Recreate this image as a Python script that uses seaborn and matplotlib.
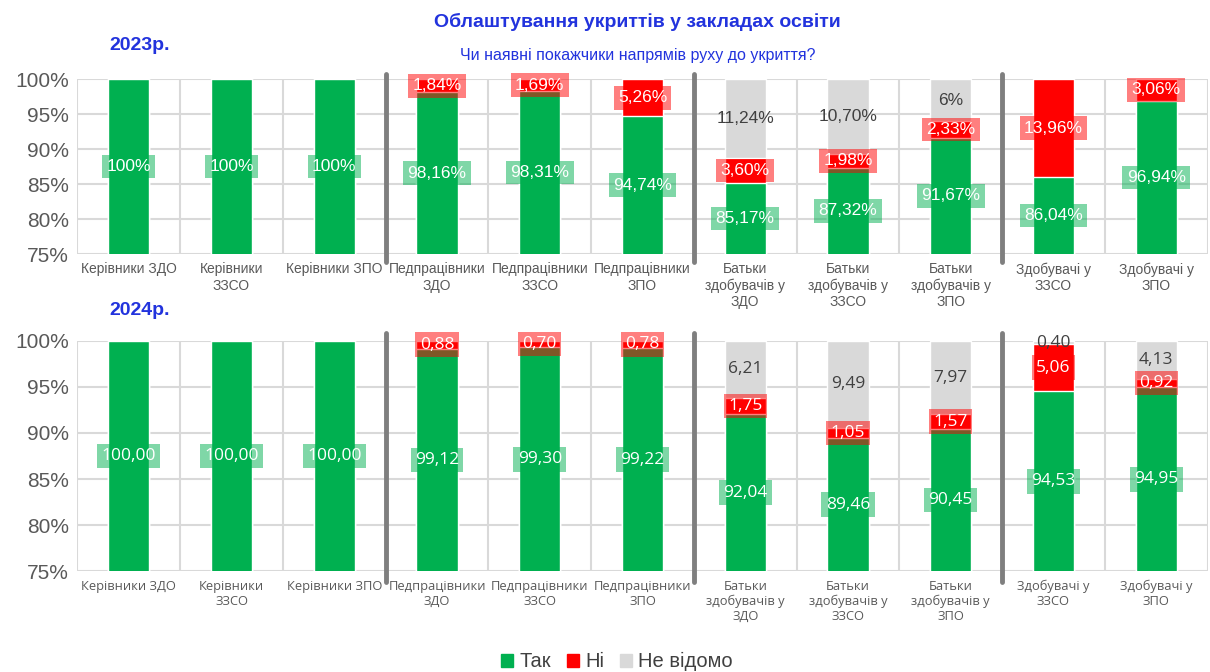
import matplotlib
matplotlib.use("Agg")
import matplotlib.pyplot as plt
from matplotlib.patches import Patch
import pandas as pd
import seaborn as sns

# --- data ---
categories = [
    "Керівники ЗДО", "Керівники\nЗЗСО", "Керівники ЗПО",
    "Педпрацівники\nЗДО", "Педпрацівники\nЗЗСО", "Педпрацівники\nЗПО",
    "Батьки\nздобувачів у\nЗДО", "Батьки\nздобувачів у\nЗЗСО", "Батьки\nздобувачів у\nЗПО",
    "Здобувачі у\nЗЗСО", "Здобувачі у\nЗПО",
]

yes_2023 = [100, 100, 100, 98.16, 98.31, 94.74, 85.17, 87.32, 91.67, 86.04, 96.94]
no_2023 = [0, 0, 0, 1.84, 1.69, 5.26, 3.60, 1.98, 2.33, 13.96, 3.06]
unknown_2023 = [0, 0, 0, 0, 0, 0, 11.24, 10.70, 6, 0, 0]

yes_2024 = [100, 100, 100, 99.12, 99.30, 99.22, 92.04, 89.46, 90.45, 94.53, 94.95]
no_2024 = [0, 0, 0, 0.88, 0.70, 0.78, 1.75, 1.05, 1.57, 5.06, 0.92]
unknown_2024 = [0, 0, 0, 0, 0, 0, 6.21, 9.49, 7.97, 0.40, 4.13]

series_names = ["Так", "Ні", "Не відомо"]
y_ticks = [75, 80, 85, 90, 95, 100]
group_breaks = [2.5, 5.5, 8.5]

GREEN = "#00B050"
RED = "#FF0000"
GREY = "#D9D9D9"
BLUE = "#2233DD"
TEXT = "#595959"


def fmt_2023(v):
    if float(v).is_integer():
        return f"{int(v)}%"
    return f"{v:.2f}%".replace(".", ",")


def fmt_2024(v):
    return f"{v:.2f}".replace(".", ",")


def draw_panel(ax, yes, no, unknown, fmt, label_font, tick_font, tick_size, value_size):
    df = pd.DataFrame({"cat": categories, "yes": yes, "no": no, "unk": unknown})
    df["yes_no"] = df["yes"] + df["no"]
    df["total"] = df["yes_no"] + df["unk"]

    # stacked look: draw cumulative totals from back to front
    sns.barplot(data=df, x="cat", y="total", color=GREY, width=0.4, saturation=1, ax=ax, zorder=2)
    sns.barplot(data=df, x="cat", y="yes_no", color=RED, width=0.4, saturation=1, ax=ax, zorder=3)
    sns.barplot(data=df, x="cat", y="yes", color=GREEN, width=0.4, saturation=1, ax=ax, zorder=4)

    ax.set_ylim(75, 100)
    ax.set_xlim(-0.5, len(categories) - 0.5)
    ax.set_yticks(y_ticks)
    ax.set_yticklabels([f"{t}%" for t in y_ticks], fontsize=15, color=TEXT,
                       family=["Liberation Sans", "DejaVu Sans"])
    ax.set_xticks(range(len(categories)))
    ax.set_xticklabels(categories, fontsize=tick_size, color=TEXT, family=tick_font,
                       linespacing=1.2)
    ax.tick_params(axis="both", length=0, pad=6)
    ax.set_xlabel("")
    ax.set_ylabel("")
    for s in ax.spines.values():
        s.set_visible(False)

    # grid
    for t in y_ticks:
        ax.axhline(t, color=GREY, lw=1.5, zorder=0)
    for b in range(len(categories) + 1):
        ax.axvline(b - 0.5, color=GREY, lw=1.5, zorder=0)
    for b in group_breaks:
        ax.plot([b, b], [73.8, 100.8], color="#7F7F7F", lw=3.5, zorder=5,
                clip_on=False, solid_capstyle="round")

    # value labels
    for i, row in df.iterrows():
        ax.text(i, (75 + row["yes"]) / 2, fmt(row["yes"]), ha="center", va="center",
                color="white", fontsize=value_size, family=label_font, zorder=6,
                bbox=dict(boxstyle="square,pad=0.25", fc=GREEN, ec="none", alpha=0.5))
        if row["no"] > 0:
            ax.text(i, row["yes"] + row["no"] / 2, fmt(row["no"]), ha="center", va="center",
                    color="white", fontsize=value_size, family=label_font, zorder=6,
                    clip_on=False,
                    bbox=dict(boxstyle="square,pad=0.25", fc=RED, ec="none", alpha=0.5))
        if row["unk"] > 0:
            ax.text(i, row["yes_no"] + row["unk"] / 2, fmt(row["unk"]), ha="center",
                    va="center", color="#404040", fontsize=value_size, family=label_font,
                    zorder=6, clip_on=False)


sns.set_style("white")
plt.rcParams["font.family"] = ["Liberation Sans", "DejaVu Sans"]

fig = plt.figure(figsize=(12.1, 6.72), dpi=100)
ax_top = fig.add_axes([0.064, 0.622, 0.934, 0.260])
ax_bot = fig.add_axes([0.064, 0.150, 0.934, 0.343])

draw_panel(ax_top, yes_2023, no_2023, unknown_2023, fmt_2023,
           ["Liberation Sans", "DejaVu Sans"], ["Liberation Sans", "DejaVu Sans"], 10, 12.5)
draw_panel(ax_bot, yes_2024, no_2024, unknown_2024, fmt_2024,
           ["Open Sans", "DejaVu Sans"], ["Open Sans", "DejaVu Sans"], 9.3, 12.5)

fig.text(0.527, 0.968, "Облаштування укриттів у закладах освіти", ha="center", va="center",
         fontsize=14, fontweight="bold", color=BLUE)
fig.text(0.527, 0.918, "Чи наявні покажчики напрямів руху до укриття?", ha="center",
         va="center", fontsize=11.5, color=BLUE)
fig.text(0.115, 0.933, "2023р.", ha="center", va="center", fontsize=14,
         fontweight="bold", color=BLUE)
fig.text(0.115, 0.538, "2024р.", ha="center", va="center", fontsize=14,
         fontweight="bold", color=BLUE)

handles = [Patch(color=c) for c in (GREEN, RED, GREY)]
fig.legend(handles, series_names, loc="center", bbox_to_anchor=(0.51, 0.015), ncol=3,
           frameon=False, fontsize=14.5, handlelength=0.6, handleheight=0.6,
           handletextpad=0.3, columnspacing=0.8, labelcolor="#404040")

fig.savefig("out.png", dpi=100)
